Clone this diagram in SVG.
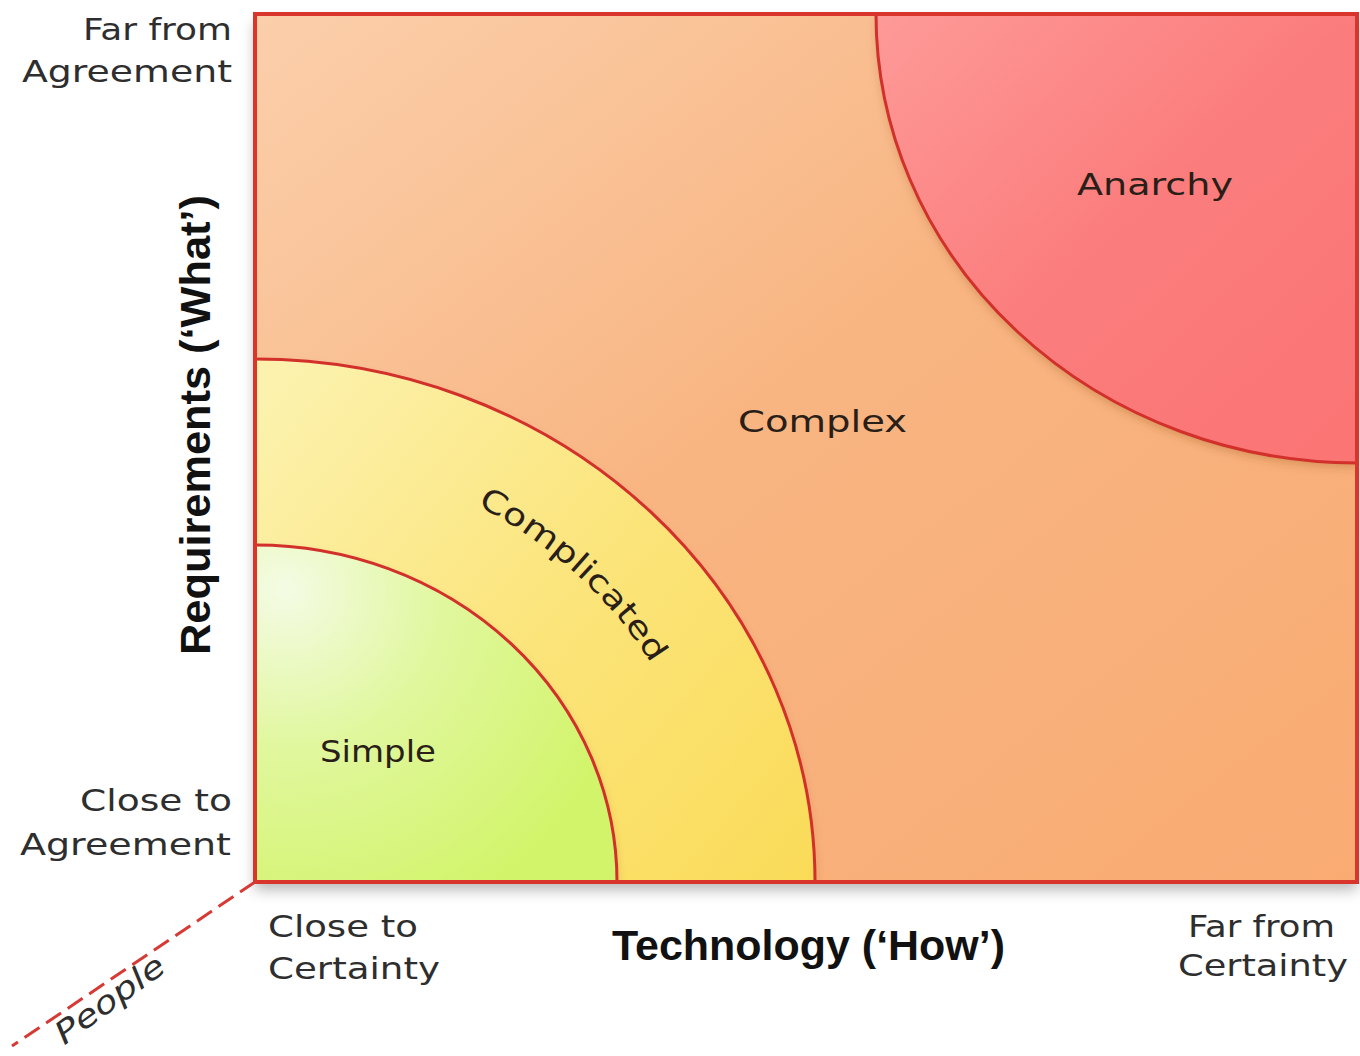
<svg xmlns="http://www.w3.org/2000/svg" width="1360" height="1056" viewBox="0 0 1360 1056">
  <style>
    .lbl { font-family: "DejaVu Sans", "Liberation Sans", sans-serif; font-size: 31px; fill: #2e2e2e; }
    .zone { font-family: "DejaVu Sans", "Liberation Sans", sans-serif; font-size: 31px; fill: #2a1f18; }
    .axis { font-family: "Liberation Sans", Arial, sans-serif; font-size: 42px; font-weight: bold; fill: #111; }
    .arc { fill: none; stroke: #d2302a; stroke-width: 3; }
  </style>
  <defs>
    <linearGradient id="gBg" x1="0" y1="0" x2="1" y2="1">
      <stop offset="0" stop-color="#fbcfab"/>
      <stop offset="0.45" stop-color="#f8b582"/>
      <stop offset="1" stop-color="#f9ab72"/>
    </linearGradient>
    <linearGradient id="gAn" x1="0" y1="0" x2="1" y2="1">
      <stop offset="0" stop-color="#fd9a98"/>
      <stop offset="0.5" stop-color="#fb7c7c"/>
      <stop offset="1" stop-color="#fb7474"/>
    </linearGradient>
    <linearGradient id="gCo" gradientUnits="userSpaceOnUse" x1="255" y1="400" x2="815" y2="882">
      <stop offset="0" stop-color="#fcf2ae"/>
      <stop offset="0.5" stop-color="#fbe47a"/>
      <stop offset="1" stop-color="#fadb58"/>
    </linearGradient>
    <radialGradient id="gSi" gradientUnits="userSpaceOnUse" cx="285" cy="590" r="360">
      <stop offset="0" stop-color="#f4fbe4"/>
      <stop offset="0.45" stop-color="#e0f79c"/>
      <stop offset="1" stop-color="#d2f46a"/>
    </radialGradient>
    <filter id="shadow" x="-5%" y="-5%" width="110%" height="115%">
      <feDropShadow dx="0" dy="8" stdDeviation="7" flood-color="#000" flood-opacity="0.28"/>
    </filter>
    <filter id="arcShadow" x="-10%" y="-10%" width="120%" height="120%">
      <feDropShadow dx="0" dy="5" stdDeviation="4" flood-color="#7a3a00" flood-opacity="0.25"/>
    </filter>
    <clipPath id="clipMain">
      <rect x="255" y="14" width="1102" height="868"/>
    </clipPath>
    <path id="cPath" d="M 255,452 A 460 430 0 0 1 715,882"/>
  </defs>

  <rect x="0" y="0" width="1360" height="1056" fill="#ffffff"/>

  <g id="complex-zone">
    <rect x="255" y="14" width="1102" height="868" fill="url(#gBg)" filter="url(#shadow)"/>
  </g>

  <g clip-path="url(#clipMain)">
    <g id="anarchy-zone">
      <path d="M 876,14 A 482 449 0 0 0 1358,463 L 1358,14 Z" fill="url(#gAn)" filter="url(#arcShadow)"/>
      <path class="arc" d="M 876,14 A 482 449 0 0 0 1358,463"/>
    </g>
    <g id="complicated-zone">
      <path d="M 255,359 A 560 523 0 0 1 815,882 L 255,882 Z" fill="url(#gCo)" filter="url(#arcShadow)"/>
      <path class="arc" d="M 255,359 A 560 523 0 0 1 815,882"/>
    </g>
    <g id="simple-zone">
      <path d="M 255,545 A 362 337 0 0 1 617,882 L 255,882 Z" fill="url(#gSi)" filter="url(#arcShadow)"/>
      <path class="arc" d="M 255,545 A 362 337 0 0 1 617,882"/>
    </g>
  </g>

  <g id="frame">
    <rect x="255" y="14" width="1102" height="868" fill="none" stroke="#d9352d" stroke-width="4"/>
  </g>

  <g id="connectors">
    <line id="people-axis" x1="255" y1="882" x2="12" y2="1046" stroke="#d63a34" stroke-width="3" stroke-dasharray="18 8"/>
  </g>

  <g id="zone-labels">
    <text class="zone" x="1077" y="195" textLength="156" lengthAdjust="spacingAndGlyphs">Anarchy</text>
    <text class="zone" x="738" y="432" textLength="169" lengthAdjust="spacingAndGlyphs">Complex</text>
    <text class="zone" x="320" y="762" textLength="116" lengthAdjust="spacingAndGlyphs">Simple</text>
    <text class="zone" font-size="30"><textPath href="#cPath" startOffset="50%" text-anchor="middle" textLength="238" lengthAdjust="spacingAndGlyphs">Complicated</textPath></text>
  </g>

  <g id="axis-labels">
    <text class="lbl" x="83" y="40" textLength="149" lengthAdjust="spacingAndGlyphs">Far from</text>
    <text class="lbl" x="22" y="82" textLength="210" lengthAdjust="spacingAndGlyphs">Agreement</text>
    <text class="lbl" x="80" y="811" textLength="152" lengthAdjust="spacingAndGlyphs">Close to</text>
    <text class="lbl" x="20" y="855" textLength="211" lengthAdjust="spacingAndGlyphs">Agreement</text>
    <text class="lbl" x="268" y="937" textLength="150" lengthAdjust="spacingAndGlyphs">Close to</text>
    <text class="lbl" x="268" y="979" textLength="172" lengthAdjust="spacingAndGlyphs">Certainty</text>
    <text class="lbl" x="1188" y="937" textLength="147" lengthAdjust="spacingAndGlyphs">Far from</text>
    <text class="lbl" x="1178" y="976" textLength="170" lengthAdjust="spacingAndGlyphs">Certainty</text>
    <text class="axis" x="612" y="960" textLength="393" lengthAdjust="spacingAndGlyphs">Technology (‘How’)</text>
    <text class="axis" transform="translate(210,425) rotate(-90)" text-anchor="middle" textLength="460" lengthAdjust="spacingAndGlyphs">Requirements (‘What’)</text>
    <text class="lbl" font-style="italic" font-size="30" transform="translate(116,1008) rotate(-36)" text-anchor="middle" textLength="128" lengthAdjust="spacingAndGlyphs">People</text>
  </g>
</svg>
